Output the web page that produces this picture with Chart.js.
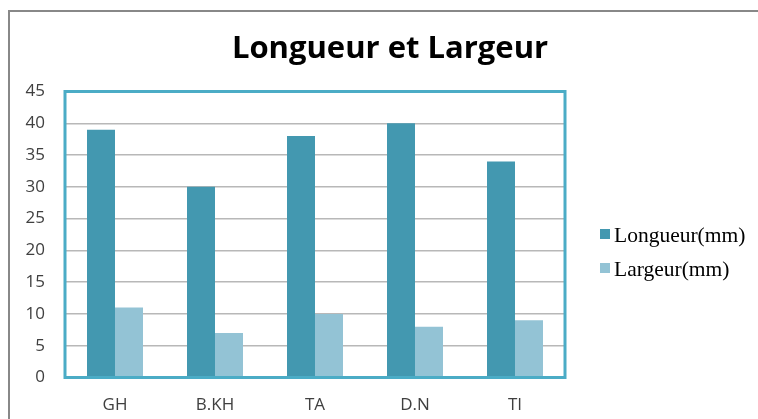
<!DOCTYPE html>
<html>
<head>
<meta charset="utf-8">
<script src="https://cdn.jsdelivr.net/npm/chart.js@4"></script>
<style>
  html, body { margin: 0; padding: 0; background: #fff; overflow: hidden; }
  #wrap { position: relative; width: 758px; height: 419px; }
  #frame { position: absolute; left: 8px; top: 10px; width: 800px; height: 500px; border-left: 2px solid #888; border-top: 2px solid #888; }
  canvas { position: absolute; left: 0; top: 0; }
</style>
</head>
<body>
<div id="wrap">
  <div id="frame"></div>
  <canvas id="chart" width="758" height="419"></canvas>
</div>
<script>
const categories = ['GH', 'B.KH', 'TA', 'D.N', 'TI'];
const longueur = [39, 30, 38, 40, 34];
const largeur = [11, 7, 10, 8, 9];
const yTicks = [0, 5, 10, 15, 20, 25, 30, 35, 40, 45];
const chartTitle = 'Longueur et Largeur';

// box around the plot area
const plotBox = {
  id: 'plotBox',
  afterDatasetsDraw(chart) {
    const a = chart.chartArea;
    const ctx = chart.ctx;
    ctx.save();
    ctx.strokeStyle = '#4bacc6';
    ctx.lineWidth = 3;
    ctx.strokeRect(a.left, a.top, a.right - a.left, a.bottom - a.top);
    ctx.restore();
  }
};

// title + legend drawn by hand so they sit where the original has them
const titleAndLegend = {
  id: 'titleAndLegend',
  afterDraw(chart) {
    const ctx = chart.ctx;
    ctx.save();
    ctx.fillStyle = '#000';
    ctx.font = 'bold 31px "Open Sans"';
    ctx.textAlign = 'center';
    ctx.textBaseline = 'alphabetic';
    ctx.fillText(chartTitle, 390, 58);

    ctx.textAlign = 'left';
    ctx.font = '21.5px "Liberation Serif"';
    chart.data.datasets.forEach((ds, i) => {
      const yc = 234 + i * 34;
      ctx.fillStyle = ds.backgroundColor;
      ctx.fillRect(600, yc - 5, 10, 10);
      ctx.fillStyle = '#000';
      ctx.fillText(ds.label, 614, yc + 7.5);
    });
    ctx.restore();
  }
};

const ctx = document.getElementById('chart').getContext('2d');
new Chart(ctx, {
  type: 'bar',
  data: {
    labels: categories,
    datasets: [
      {
        label: 'Longueur(mm)',
        data: longueur,
        backgroundColor: '#4398b0',
        barPercentage: 1,
        categoryPercentage: 0.56,
      },
      {
        label: 'Largeur(mm)',
        data: largeur,
        backgroundColor: '#93c3d5',
        barPercentage: 1,
        categoryPercentage: 0.56,
      },
    ],
  },
  options: {
    responsive: false,
    animation: false,
    layout: { padding: { left: 0, right: 193, top: 91.5, bottom: 0 } },
    plugins: {
      title: { display: false },
      legend: { display: false },
      tooltip: { enabled: false },
    },
    scales: {
      x: {
        afterFit: (axis) => { axis.height = 41.5; },
        grid: { display: false, drawTicks: false },
        border: { display: false },
        ticks: {
          color: '#404040',
          font: { family: 'Open Sans', size: 17 },
          padding: 17,
        },
      },
      y: {
        min: 0,
        max: 45,
        afterFit: (axis) => { axis.width = 65; },
        afterBuildTicks: (axis) => { axis.ticks = yTicks.map(v => ({ value: v })); },
        grid: { color: '#b8b8b8', lineWidth: 1.5, drawTicks: false },
        border: { display: false },
        ticks: {
          color: '#404040',
          font: { family: 'Open Sans', size: 17 },
          padding: 20,
        },
      },
    },
  },
  plugins: [plotBox, titleAndLegend],
});
</script>
</body>
</html>
